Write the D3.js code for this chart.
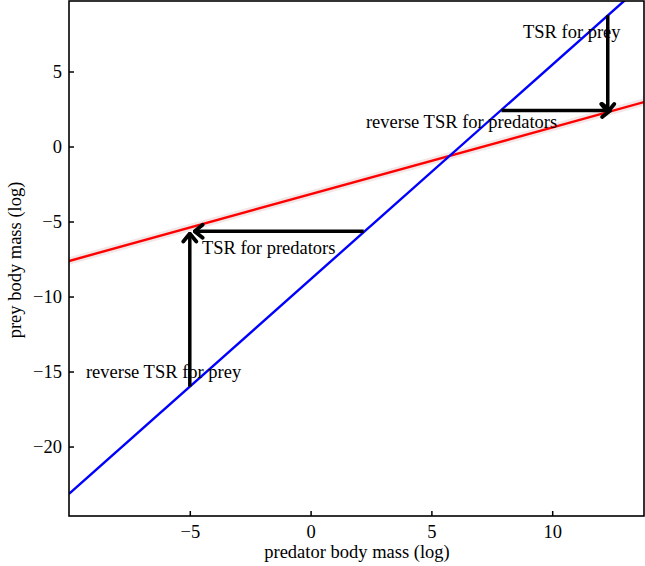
<!DOCTYPE html>
<html>
<head>
<meta charset="utf-8">
<script src="https://cdn.jsdelivr.net/npm/d3@7"></script>
<style>
  body { margin: 0; background: #fff; }
  text { font-family: "Liberation Serif", "Times New Roman", serif; fill: #000; }
</style>
</head>
<body>
<div id="chart"></div>
<script>
// Data
const xTicks = [-5, 0, 5, 10];
const yTicks = [-20, -15, -10, -5, 0, 5];
// regression lines (endpoints, log body mass)
const preyLine = [{ x: -10, y: -23.15 }, { x: 13.8, y: 10.88 }];
const predatorLine = [{ x: -10, y: -7.63 }, { x: 13.8, y: 2.96 }];
// arrows: from -> to
const arrows = [
  { x1: -5, y1: -16, x2: -5, y2: -5.8 },
  { x1: 2.2, y1: -5.65, x2: -4.8, y2: -5.65 },
  { x1: 12.3, y1: 8.75, x2: 12.3, y2: 2.3 },
  { x1: 7.9, y1: 2.4, x2: 12.4, y2: 2.4 },
];
const labels = [
  { text: "TSR for prey", x: 8.79, y: 7.23 },
  { text: "reverse TSR for predators", x: 2.29, y: 1.23 },
  { text: "TSR for predators", x: -4.5, y: -7.17 },
  { text: "reverse TSR for prey", x: -9.3, y: -15.43 },
];

const width = 645, height = 566;
const margin = { left: 69, right: 1, top: 1, bottom: 50 };
const FONT = 18.5;

const svg = d3.select("#chart").append("svg")
  .attr("width", width).attr("height", height);

const x = d3.scaleLinear().domain([-10, 13.8]).range([margin.left, width - margin.right]);
const y = d3.scaleLinear().domain([-24.63, 9.7]).range([height - margin.bottom, margin.top]);

svg.append("defs").append("clipPath").attr("id", "plot")
  .append("rect")
  .attr("x", x.range()[0]).attr("y", y.range()[1])
  .attr("width", x.range()[1] - x.range()[0])
  .attr("height", y.range()[0] - y.range()[1]);

svg.select("defs").append("marker")
  .attr("id", "head")
  .attr("viewBox", "-12 -9 14 18")
  .attr("markerWidth", 14).attr("markerHeight", 18)
  .attr("markerUnits", "userSpaceOnUse")
  .attr("refX", 0).attr("refY", 0)
  .attr("orient", "auto")
  .append("path")
  .attr("d", "M-8,-6.5L0,0L-8,6.5")
  .attr("fill", "none").attr("stroke", "#000")
  .attr("stroke-width", 3.8).attr("stroke-linecap", "round").attr("stroke-linejoin", "miter");

const line = d3.line().x(d => x(d.x)).y(d => y(d.y));
const g = svg.append("g").attr("clip-path", "url(#plot)");

// faint band around predator line
g.append("path")
  .datum(predatorLine)
  .attr("d", d3.area().x(d => x(d.x)).y0(d => y(d.y - 0.25)).y1(d => y(d.y + 0.25)))
  .attr("fill", "#f2e6e6");

g.append("path").datum(predatorLine).attr("d", line)
  .attr("fill", "none").attr("stroke", "#f00").attr("stroke-width", 2.4);
g.append("path").datum(preyLine).attr("d", line)
  .attr("fill", "none").attr("stroke", "#00f").attr("stroke-width", 2.4);

g.selectAll("line.arrow").data(arrows).join("line")
  .attr("class", "arrow")
  .attr("x1", d => x(d.x1)).attr("y1", d => y(d.y1))
  .attr("x2", d => x(d.x2)).attr("y2", d => y(d.y2))
  .attr("stroke", "#000").attr("stroke-width", 3.5)
  .attr("marker-end", "url(#head)");

svg.selectAll("text.note").data(labels).join("text")
  .attr("class", "note")
  .attr("x", d => x(d.x)).attr("y", d => y(d.y))
  .attr("font-size", FONT)
  .text(d => d.text);

// axes with inward ticks, boxed
const gx = svg.append("g").attr("transform", `translate(0,${y.range()[0]})`)
  .call(d3.axisBottom(x).tickValues(xTicks).tickSizeInner(-5).tickSizeOuter(0).tickPadding(9));
const gy = svg.append("g").attr("transform", `translate(${x.range()[0]},0)`)
  .call(d3.axisLeft(y).tickValues(yTicks).tickSizeInner(-5).tickSizeOuter(0).tickPadding(7));
[gx, gy].forEach(a => {
  a.select(".domain").remove();
  a.selectAll(".tick line").attr("stroke", "#000").attr("stroke-width", 1.5);
  a.selectAll(".tick text").attr("font-size", FONT).attr("font-family", "Liberation Serif");
});

svg.append("rect")
  .attr("x", x.range()[0]).attr("y", y.range()[1])
  .attr("width", x.range()[1] - x.range()[0])
  .attr("height", y.range()[0] - y.range()[1])
  .attr("fill", "none").attr("stroke", "#000").attr("stroke-width", 1.6);

svg.append("text")
  .attr("x", 357).attr("y", 558)
  .attr("text-anchor", "middle").attr("font-size", FONT)
  .text("predator body mass (log)");

svg.append("text")
  .attr("transform", `translate(21,260) rotate(-90)`)
  .attr("text-anchor", "middle").attr("font-size", FONT)
  .text("prey body mass (log)");
</script>
</body>
</html>
